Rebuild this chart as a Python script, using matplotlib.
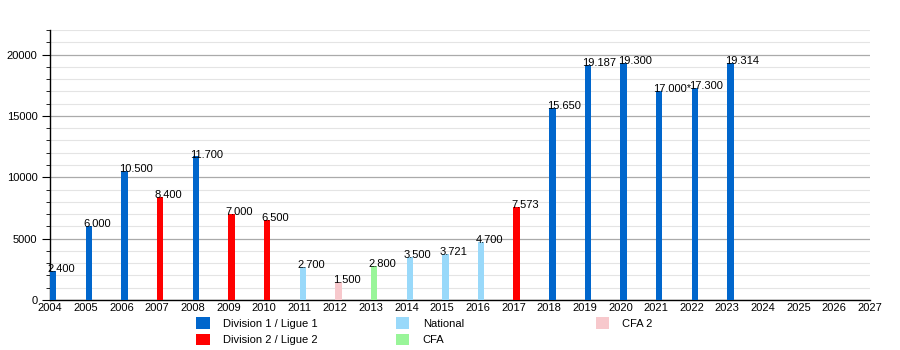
import matplotlib.pyplot as plt
from matplotlib.patches import Patch
from matplotlib.ticker import MultipleLocator

plt.rcParams['font.family'] = ['Liberation Sans', 'DejaVu Sans']

# Datos de asistencia
years = list(range(2004, 2024))
attendance = [2400, 6000, 10500, 8400, 11700, 7000, 6500, 2700, 1500, 2800,
              3500, 3721, 4700, 7573, 15650, 19187, 19300, 17000, 17300, 19314]
labels = ['2.400', '6.000', '10.500', '8.400', '11.700', '7.000', '6.500', '2.700',
          '1.500', '2.800', '3.500', '3.721', '4.700', '7.573', '15.650', '19.187',
          '19.300', '17.000*', '17.300', '19.314']
league = ['D1', 'D1', 'D1', 'D2', 'D1', 'D2', 'D2', 'NAT', 'CFA2', 'CFA',
          'NAT', 'NAT', 'NAT', 'D2', 'D1', 'D1', 'D1', 'D1', 'D1', 'D1']
league_names = {'D1': 'Division 1 / Ligue 1', 'D2': 'Division 2 / Ligue 2',
                'NAT': 'National', 'CFA': 'CFA', 'CFA2': 'CFA 2'}
colors = {'D1': '#0066cc', 'D2': '#ff0000', 'NAT': '#99d9fa',
          'CFA': '#99f599', 'CFA2': '#f7c8cc'}
x_ticks = list(range(2004, 2028))

fig = plt.figure(figsize=(9, 3.5), dpi=100)
ax = fig.add_axes([0.0556, 0.143, 0.911, 0.771])

# Barras
ax.bar(years, attendance, width=0.18, align='edge',
       color=[colors[l] for l in league], zorder=3)

for x, y, t in zip(years, attendance, labels):
    ax.text(x - 0.07, y - 250, t, fontsize=8, ha='left', va='bottom', zorder=4)

# Ejes
ax.set_xlim(2004, 2027)
ax.set_ylim(0, 22000)
ax.set_xticks(x_ticks)
ax.tick_params(axis='x', length=0, labelsize=8, pad=2)
ax.yaxis.set_major_locator(MultipleLocator(5000))
ax.yaxis.set_minor_locator(MultipleLocator(1000))
ax.tick_params(axis='y', which='major', length=6, labelsize=8, pad=3)
ax.tick_params(axis='y', which='minor', length=3)
ax.grid(axis='y', which='major', color='#aaaaaa', linewidth=0.9, zorder=0)
ax.grid(axis='y', which='minor', color='#e4e4e4', linewidth=0.8, zorder=0)
for s in ['top', 'right']:
    ax.spines[s].set_visible(False)
ax.spines['left'].set_linewidth(1.0)
ax.spines['bottom'].set_linewidth(1.0)

# Leyenda en tres columnas
groups = [['D1', 'D2'], ['NAT', 'CFA'], ['CFA2']]
xs = [0.218, 0.440, 0.662]
for g, xp in zip(groups, xs):
    handles = [Patch(facecolor=colors[k], label=league_names[k]) for k in g]
    fig.legend(handles=handles, loc='upper left', bbox_to_anchor=(xp, 0.093),
               frameon=False, fontsize=8, handlelength=1.2, handleheight=1.2,
               handletextpad=1.2, labelspacing=0.45, borderpad=0, borderaxespad=0)

plt.savefig('out.png', dpi=100)
